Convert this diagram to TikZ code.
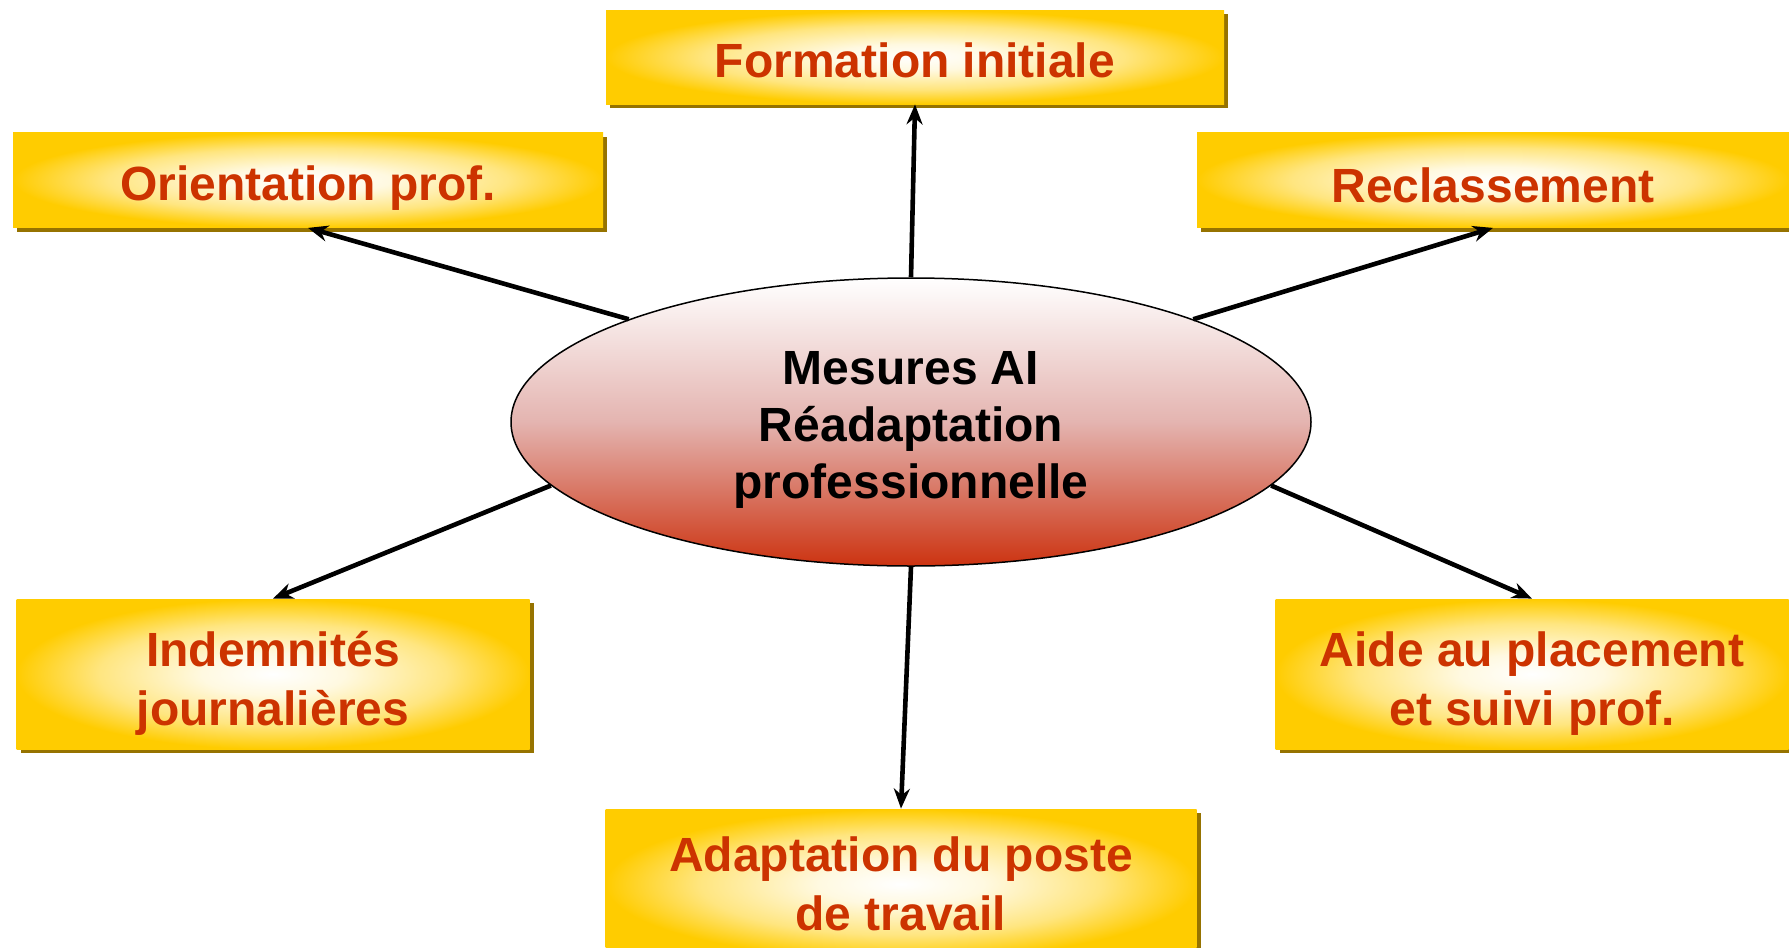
\documentclass[tikz,border=0pt]{standalone}
\usepackage{fontspec}
\setmainfont{Liberation Sans}
\usetikzlibrary{arrows.meta,shapes.geometric,shadows,positioning}

\definecolor{boxgold}{RGB}{255,204,0}
\definecolor{boxtext}{RGB}{204,51,0}
\definecolor{boxshadow}{RGB}{150,115,0}
\definecolor{hubred}{RGB}{204,51,17}
\definecolor{hubpink}{RGB}{228,180,176}

\pgfdeclareradialshading{boxglow}{\pgfpoint{0bp}{0bp}}{color(0bp)=(white); color(7bp)=(white!88!boxgold); color(17bp)=(boxgold!50!white); color(25bp)=(boxgold); color(50bp)=(boxgold)}

% invisible strut to sink the text a little
\newcommand{\lifted}[1]{\rule{0pt}{#1}}

\begin{document}
\begin{tikzpicture}[x=0.5pt,y=-0.5pt]

\tikzset{measure/.style={shade,shading=boxglow,text=boxtext,inner sep=0pt,align=center,
  font=\bfseries\fontsize{24}{29.5}\selectfont,
  drop shadow={shadow xshift=2pt,shadow yshift=-2pt,fill=boxshadow,opacity=1}},
hub/.style={ellipse,draw=black,line width=0.75pt,top color=white,bottom color=hubred,middle color=hubpink,
  inner sep=0pt,minimum width=400pt,minimum height=144pt,align=center,
  font=\bfseries\fontsize{24}{28.5}\selectfont},
links/.style={->,>={Stealth[length=10pt,width=8pt]},line width=2.3pt}}

\useasboundingbox (0,0) rectangle (1789,948);

% Central measure
\node (ai) [hub] at (911,422) {\lifted{24pt}Mesures AI\\Réadaptation\\professionnelle};

% Measures around it
\node (m1) [measure,minimum width=309pt,minimum height=47pt] at (915,57) {\lifted{20.5pt}Formation initiale};
\node (m2) [measure,minimum width=295pt,minimum height=47.5pt] at (308,180) {\lifted{25.5pt}Orientation prof.};
\node (m3) [measure,minimum width=296pt,minimum height=47.5pt] at (1493,180) {\lifted{23pt}Reclassement};
\node (m4) [measure,minimum width=256.5pt,minimum height=75pt] at (273,674) {\lifted{26.5pt}Indemnités\\journalières};
\node (m5) [measure,minimum width=256.5pt,minimum height=75pt] at (1532,674) {\lifted{26.5pt}Aide au placement\\et suivi prof.};
\node (m6) [measure,minimum width=295.5pt,minimum height=75pt] at (901,884) {Adaptation du poste\\de travail};

% Arrows from the centre
\draw [links] (ai.north) -- (m1.south);
\draw [links] (ai.160) -- (m2.south);
\draw [links] (ai.20) -- (m3.south);
\draw [links] (ai.190) -- (m4.north);
\draw [links] (ai.350) -- (m5.north);
\draw [links] (ai.south) -- (m6.north);

\end{tikzpicture}
\end{document}
